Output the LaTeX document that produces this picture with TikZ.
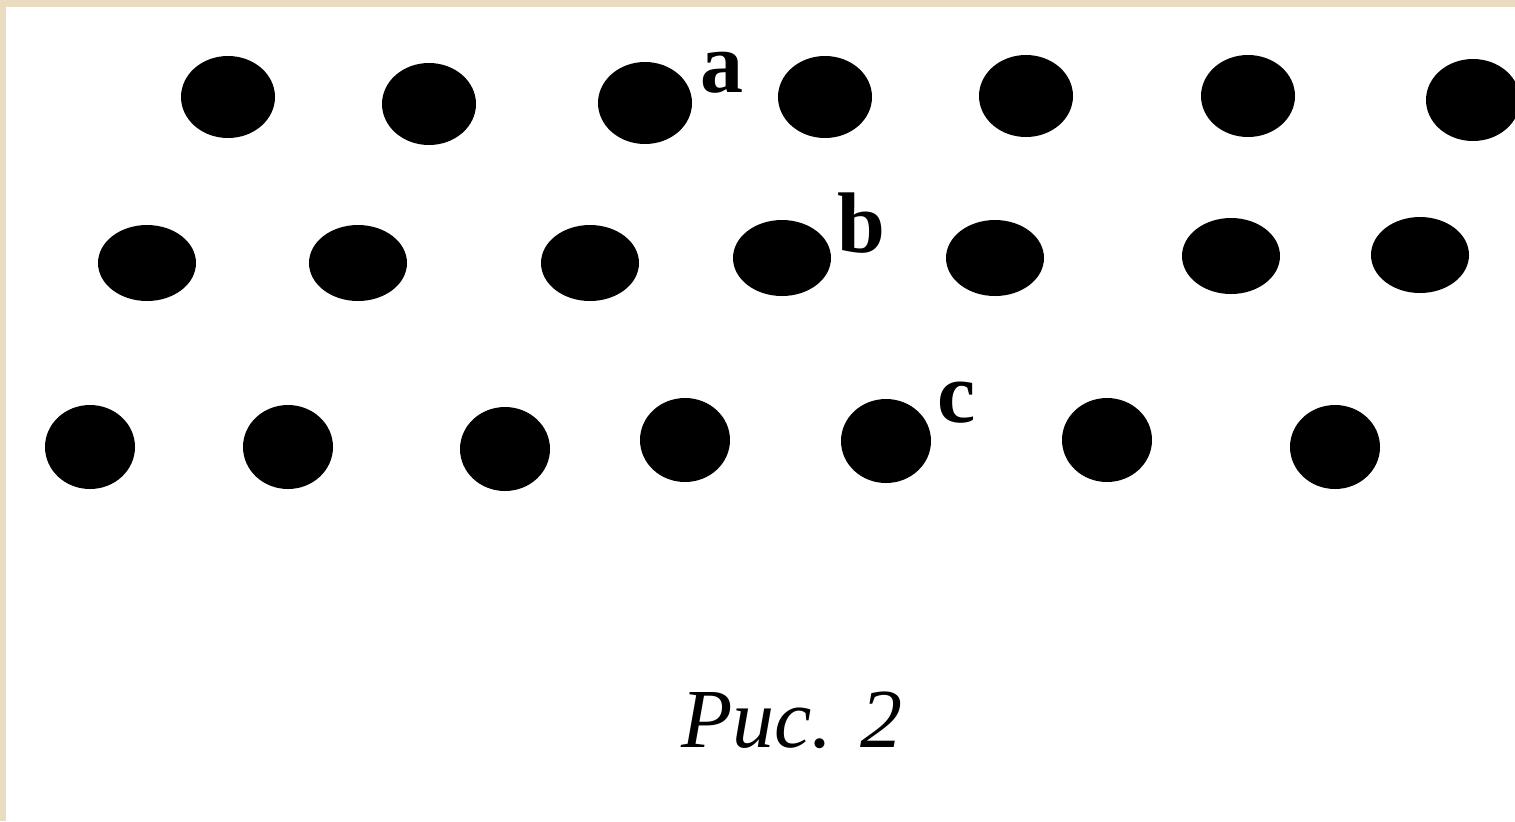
\documentclass[tikz,border=0pt]{standalone}
\usepackage{fontspec}
\setmainfont{Liberation Serif}
\usetikzlibrary{shapes.geometric}
\definecolor{paper}{RGB}{234,220,193}

\begin{document}
\begin{tikzpicture}[x=0.5pt,y=-0.5pt,
  dot/.style={ellipse,fill=black,inner sep=0pt,minimum width=47pt,minimum height=41pt},
  flatdot/.style={dot,minimum width=49pt,minimum height=38pt},
  rounddot/.style={dot,minimum width=45pt,minimum height=42pt},
  tag/.style={font=\bfseries\fontsize{43}{43}\selectfont,inner sep=0pt,anchor=base west},
  caption/.style={font=\itshape\fontsize{42}{42}\selectfont,inner sep=0pt,anchor=base}
]
\useasboundingbox (0,0) rectangle (1515,821);
% frame of the page
\fill[paper] (0,0) rectangle (1515,821);
\fill[white] (6,7) rectangle (1515,821);
\begin{scope}
\clip (6,7) rectangle (1515,821);
% row a
\foreach \x/\y [count=\i] in {228/97,429/104,645/103,825/97,1026/96,1248/96,1473/100}
  \node[dot] (a\i) at (\x,\y) {};
% row b
\foreach \x/\y [count=\i] in {147/263,358/263,590/263,782/258,995/258,1231/256,1420/255}
  \node[flatdot] (b\i) at (\x,\y) {};
% row c
\foreach \x/\y [count=\i] in {90/447,288/447,505/449,685/440,886/441,1107/440,1335/447}
  \node[rounddot] (c\i) at (\x,\y) {};
\end{scope}
% labels
\node[tag] (labela) at (700,92) {a};
\node[tag] (labelb) at (837,252) {b};
\node[tag] (labelc) at (937,422) {c};
\node[caption] (fig) at (792,747) {Рис. 2};
\end{tikzpicture}
\end{document}
